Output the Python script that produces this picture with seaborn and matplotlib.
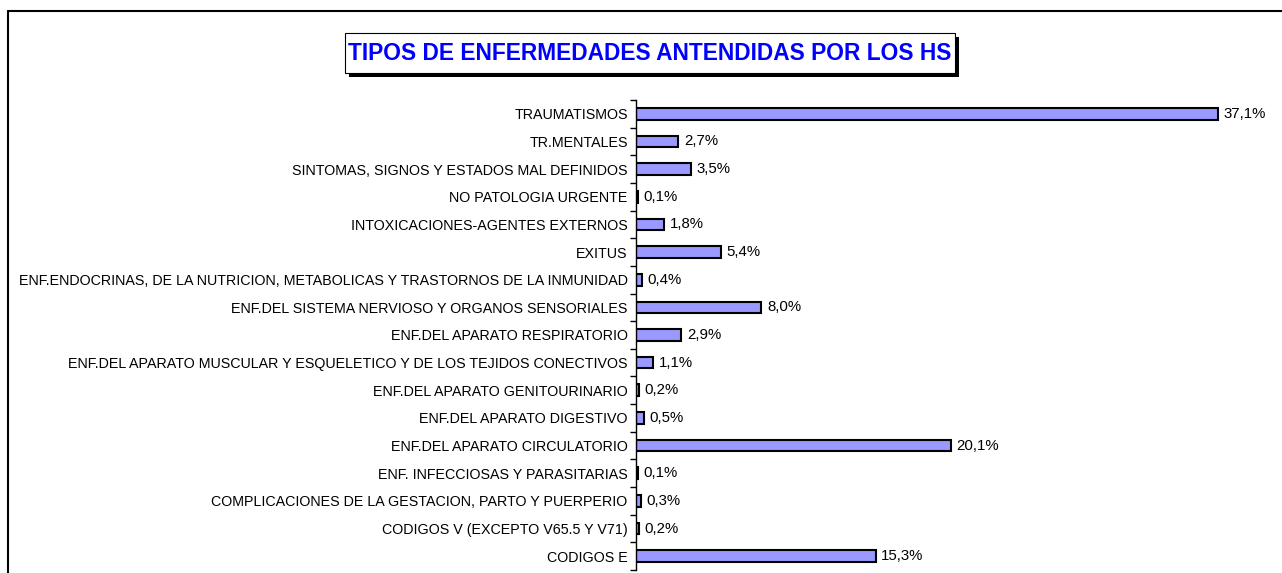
import numpy as np
import pandas as pd
import seaborn as sns
import matplotlib.pyplot as plt
from matplotlib.patches import Rectangle
from matplotlib.lines import Line2D

sns.set_style("white")
plt.rcParams['font.family'] = ['Liberation Sans', 'DejaVu Sans']

categorias = [
    'TRAUMATISMOS',
    'TR.MENTALES',
    'SINTOMAS, SIGNOS Y ESTADOS MAL DEFINIDOS',
    'NO PATOLOGIA URGENTE',
    'INTOXICACIONES-AGENTES EXTERNOS',
    'EXITUS',
    'ENF.ENDOCRINAS, DE LA NUTRICION, METABOLICAS Y TRASTORNOS DE LA INMUNIDAD',
    'ENF.DEL SISTEMA NERVIOSO Y ORGANOS SENSORIALES',
    'ENF.DEL APARATO RESPIRATORIO',
    'ENF.DEL APARATO MUSCULAR Y ESQUELETICO Y DE LOS TEJIDOS CONECTIVOS',
    'ENF.DEL APARATO GENITOURINARIO',
    'ENF.DEL APARATO DIGESTIVO',
    'ENF.DEL APARATO CIRCULATORIO',
    'ENF. INFECCIOSAS Y PARASITARIAS',
    'COMPLICACIONES DE LA GESTACION, PARTO Y PUERPERIO',
    'CODIGOS V (EXCEPTO V65.5 Y V71)',
    'CODIGOS E',
]
porcentajes = [37.1, 2.7, 3.5, 0.1, 1.8, 5.4, 0.4, 8.0, 2.9, 1.1, 0.2, 0.5, 20.1, 0.1, 0.3, 0.2, 15.3]
titulo = 'TIPOS DE ENFERMEDADES ANTENDIDAS POR LOS HS'

df = pd.DataFrame({'cat': categorias, 'pct': porcentajes})

W, H = 1282, 573
fig = plt.figure(figsize=(W / 100, H / 100), dpi=100)
ax = fig.add_axes([636 / W, 3 / H, 627 / W, 470 / H])

sns.barplot(data=df, y='cat', x='pct', orient='h', color='#9999FF', saturation=1,
            edgecolor='black', linewidth=1.5, width=0.42, ax=ax)

ax.set_xlim(0, 40)
ax.set_ylim(len(categorias) - 0.5, -0.5)
ax.set_xlabel('')
ax.set_ylabel('')
ax.set_xticks([])
sns.despine(ax=ax, top=True, right=True, bottom=True, left=False)
ax.spines['left'].set_color('black')
ax.spines['left'].set_linewidth(1)

ax.tick_params(axis='y', which='major', length=0, pad=6, labelsize=10.3, labelcolor='black')
ax.set_yticks(np.arange(-0.5, len(categorias)), minor=True)
ax.tick_params(axis='y', which='minor', length=4, width=1, color='black', left=True)

for i, v in enumerate(porcentajes):
    ax.text(v + 0.35, i, ('%.1f%%' % v).replace('.', ','), va='center', ha='left',
            fontsize=10.8, color='black')

# marco exterior
fig.add_artist(Line2D([8 / W, 8 / W], [0, 1 - 11 / H], transform=fig.transFigure, color='black', lw=1.5))
fig.add_artist(Line2D([8 / W, 1], [1 - 11 / H, 1 - 11 / H], transform=fig.transFigure, color='black', lw=1.5))

# titulo con caja y sombra
bx0, bx1, by0, by1 = 345, 955, 33, 73
fig.add_artist(Rectangle(((bx0 + 4) / W, 1 - (by1 + 4) / H), (bx1 - bx0) / W, (by1 - by0) / H,
                         transform=fig.transFigure, facecolor='black', edgecolor='black', lw=0))
fig.add_artist(Rectangle((bx0 / W, 1 - by1 / H), (bx1 - bx0) / W, (by1 - by0) / H,
                         transform=fig.transFigure, facecolor='white', edgecolor='black', lw=0.8))
fig.text((bx0 + 3) / W, 1 - (by0 + by1) / 2 / H, titulo, ha='left', va='center',
         color='#0000FF', fontsize=16.4, fontweight='bold')

fig.savefig('out.png', dpi=100)
